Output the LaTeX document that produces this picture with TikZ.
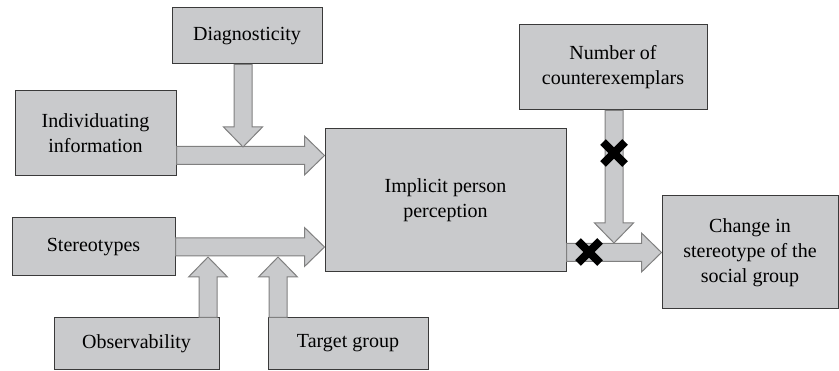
\documentclass[tikz,border=0pt]{standalone}
\usepackage{fontspec}
\setmainfont{Liberation Serif}
\usepackage{tikz}
\usetikzlibrary{arrows.meta,positioning,calc}
\definecolor{boxgray}{HTML}{C9CACC}
\definecolor{boxline}{HTML}{3A3A3A}
\definecolor{arrline}{HTML}{808080}
\tikzset{
  factor/.style={draw=boxline,fill=boxgray,line width=1pt,align=center,
    inner sep=0pt,font=\fontsize{20}{25}\selectfont},
  fatline/.style={draw=arrline,fill=boxgray,line width=1pt,line join=miter},
  blocked/.style={line width=8pt,black}
}
\newcommand\fatarrow[2]{%
  \coordinate (hb) at ($(#2)!20pt!(#1)$);
  \path[fatline] ($(#1)!9pt!90:(#2)$) -- ($(hb)!9pt!-90:(#1)$) -- ($(hb)!19.5pt!-90:(#1)$)
    -- (#2) -- ($(hb)!19.5pt!90:(#1)$) -- ($(hb)!9pt!90:(#1)$) -- ($(#1)!9pt!-90:(#2)$) -- cycle;
}
\newcommand\blockmark[1]{%
  \draw[blocked] ($(#1)+(-11pt,-11pt)$) -- ($(#1)+(11pt,11pt)$);
  \draw[blocked] ($(#1)+(-11pt,11pt)$) -- ($(#1)+(11pt,-11pt)$);
}
\begin{document}
\begin{tikzpicture}[x=1pt,y=1pt]
    \useasboundingbox (0,0) rectangle (839,370);
        \node[factor,minimum width=150pt,minimum height=56pt] (diag) at (247,334) {Diagnosticity};
        \node[factor,minimum width=161pt,minimum height=85pt] (ind) at (95.5,236.5) {Individuating\\information};
        \node[factor,minimum width=163pt,minimum height=58pt] (ster) at (93.5,123) {Stereotypes};
        \node[factor,minimum width=165pt,minimum height=51pt] (obs) at (136.5,26.5) {Observability};
        \node[factor,minimum width=160pt,minimum height=51pt] (tgt) at (348,26.5) {Target group};
        \node[factor,minimum width=241pt,minimum height=143pt] (ipp) at (445.5,169.5) {Implicit person\\perception};
        \node[factor,minimum width=188pt,minimum height=85pt] (num) at (613,302.5) {Number of\\counterexemplars};
        \node[factor,minimum width=176pt,minimum height=113pt] (chg) at (750,117.5) {Change in\\stereotype of the\\social group};
        \coordinate (indout) at ($(ind.south east)+(0,21)$);
        \coordinate (diagin) at (243,223);
        \coordinate (obsin) at (208,113);
        \coordinate (tgtin) at (278,113);
        \coordinate (numin) at (614,127);
        \fatarrow{indout}{ipp.west |- indout}
        \fatarrow{ster.east}{ipp.west |- ster.east}
        \fatarrow{ipp.east |- chg.west}{chg.west}
        \fatarrow{diag.south -| diagin}{diagin}
        \fatarrow{obs.north -| obsin}{obsin}
        \fatarrow{tgt.north -| tgtin}{tgtin}
        \fatarrow{num.south -| numin}{numin}
        \blockmark{614,217}
        \blockmark{589,118}
    \end{tikzpicture}
\end{document}
